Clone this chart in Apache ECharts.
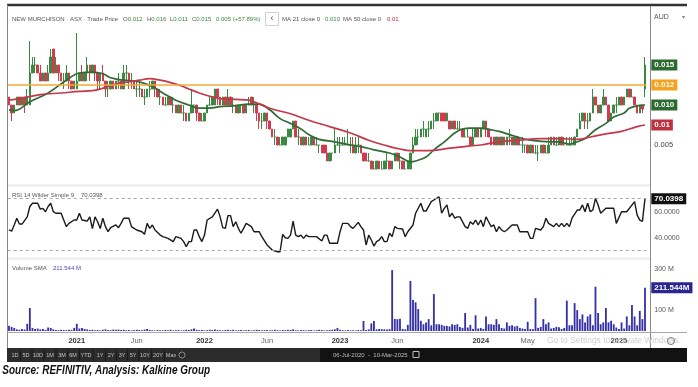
<!DOCTYPE html>
<html><head><meta charset="utf-8">
<script src="https://cdn.jsdelivr.net/npm/echarts/dist/echarts.min.js"></script>
<style>html,body{margin:0;padding:0;background:#fff;}#c{width:698px;height:387px;}</style>
</head><body><div id="c"></div>
<script>
// ---------- DATA (weekly bars, 06-Jul-2020 .. 10-Mar-2025) ----------
const firstWeek = '2020-07-06';
const opens = [
.011,.010,.009,.010,.011,.010,.011,.010,.010,.014,
.015,.015,.014,.013,.014,.013,.014,.017,.014,.015,
.014,.013,.013,.014,.013,.012,.012,.013,.014,.013,
.014,.015,.014,.015,.014,.013,.014,.013,.012,.012,
.013,.012,.013,.013,.012,.014,.014,.013,.013,.012,
.012,.012,.011,.011,.012,.012,.013,.012,.011,.011,
.010,.010,.011,.010,.010,.009,.010,.009,.009,.008,
.009,.010,.010,.009,.008,.008,.009,.010,.010,.010,
.012,.011,.010,.011,.010,.011,.010,.010,.009,.010,
.010,.009,.010,.011,.010,.010,.009,.008,.008,.009,
.008,.007,.006,.006,.005,.005,.005,.006,.006,.007,
.008,.006,.006,.005,.006,.005,.005,.006,.005,.005,
.005,.005,.004,.003,.004,.004,.005,.005,.005,.005,
.005,.005,.005,.004,.005,.005,.004,.004,.003,.003,
.002,.002,.003,.002,.002,.003,.003,.002,.003,.004,
.003,.003,.002,.002,.002,.004,.005,.006,.006,.007,
.006,.007,.007,.008,.008,.009,.009,.009,.008,.008,
.007,.008,.007,.007,.007,.006,.006,.006,.005,.006,
.007,.006,.007,.008,.007,.006,.006,.005,.006,.005,
.006,.005,.006,.006,.005,.006,.005,.005,.005,.005,
.004,.005,.004,.004,.004,.005,.004,.004,.005,.006,
.005,.005,.006,.005,.005,.005,.005,.005,.006,.007,
.008,.009,.008,.008,.009,.011,.010,.009,.010,.011,
.010,.008,.009,.010,.010,.011,.010,.011,.012,.011,
.011,.010,.009,.010,.012];
const closes = [
.010,.009,.010,.011,.010,.011,.010,.011,.014,.015,
.015,.014,.013,.014,.013,.014,.016,.014,.015,.014,
.013,.013,.014,.013,.012,.013,.013,.014,.013,.014,
.015,.014,.015,.014,.013,.014,.013,.012,.012,.013,
.012,.013,.013,.012,.014,.014,.013,.013,.012,.012,
.012,.011,.011,.012,.012,.013,.012,.011,.011,.010,
.010,.011,.010,.010,.009,.010,.009,.009,.008,.009,
.010,.010,.009,.008,.008,.009,.010,.010,.011,.012,
.011,.010,.011,.010,.011,.010,.010,.009,.010,.010,
.009,.010,.010,.010,.010,.009,.008,.008,.009,.008,
.007,.006,.006,.005,.005,.006,.006,.007,.007,.008,
.006,.006,.005,.006,.005,.005,.006,.005,.005,.005,
.004,.004,.003,.004,.004,.005,.005,.005,.005,.005,
.005,.005,.004,.005,.005,.004,.003,.003,.003,.002,
.002,.003,.002,.002,.003,.003,.002,.003,.004,.003,
.003,.002,.002,.003,.004,.005,.006,.006,.007,.007,
.007,.007,.008,.008,.009,.009,.008,.008,.009,.007,
.008,.007,.007,.007,.006,.006,.006,.005,.006,.007,
.006,.007,.008,.007,.006,.005,.005,.006,.005,.006,
.005,.006,.006,.005,.006,.005,.005,.005,.005,.004,
.005,.004,.004,.004,.005,.004,.004,.005,.006,.005,
.005,.006,.005,.005,.005,.005,.005,.006,.007,.008,
.009,.008,.008,.009,.011,.010,.009,.010,.011,.010,
.008,.009,.010,.010,.011,.010,.011,.012,.011,.011,
.010,.009,.010,.0095,.015];
const lows = [
.010,.008,.009,.010,.010,.010,.009,.010,.010,.014,
.014,.014,.013,.013,.013,.013,.014,.014,.014,.013,
.013,.012,.013,.012,.012,.012,.012,.013,.013,.013,
.013,.013,.014,.013,.012,.012,.013,.011,.011,.012,
.012,.012,.012,.012,.012,.013,.012,.012,.012,.011,
.011,.011,.010,.011,.011,.012,.011,.011,.010,.010,
.010,.010,.010,.009,.009,.009,.009,.008,.008,.008,
.009,.009,.008,.008,.008,.008,.009,.010,.010,.010,
.010,.010,.010,.010,.010,.010,.009,.009,.009,.009,
.009,.009,.010,.010,.009,.008,.007,.007,.008,.007,
.007,.006,.005,.005,.005,.005,.005,.006,.006,.007,
.006,.005,.005,.005,.005,.005,.005,.005,.005,.004,
.004,.004,.003,.003,.003,.004,.005,.004,.005,.005,
.005,.004,.004,.004,.004,.004,.003,.003,.003,.002,
.002,.002,.002,.002,.002,.002,.002,.002,.003,.003,
.002,.002,.002,.002,.002,.004,.005,.005,.006,.006,
.006,.006,.007,.007,.008,.008,.008,.008,.008,.007,
.007,.007,.007,.007,.006,.006,.006,.005,.005,.006,
.006,.006,.007,.006,.006,.005,.005,.005,.005,.005,
.005,.005,.005,.005,.005,.005,.005,.004,.004,.004,
.004,.004,.004,.003,.004,.004,.004,.004,.005,.005,
.005,.005,.005,.005,.005,.005,.005,.005,.006,.007,
.008,.007,.007,.008,.009,.010,.009,.009,.010,.010,
.008,.008,.009,.009,.010,.010,.010,.011,.011,.011,
.010,.009,.009,.009,.011];
const highs = [
.011,.010,.010,.011,.011,.011,.011,.012,.018,.016,
.016,.015,.015,.014,.014,.015,.017,.017,.016,.015,
.014,.014,.015,.014,.013,.013,.019,.014,.015,.014,
.016,.015,.015,.015,.014,.014,.015,.013,.013,.013,
.013,.013,.014,.013,.015,.015,.014,.014,.013,.013,
.013,.012,.012,.012,.013,.013,.013,.012,.012,.011,
.011,.011,.011,.011,.010,.010,.010,.010,.009,.009,
.012,.010,.010,.009,.009,.009,.010,.011,.011,.012,
.012,.011,.011,.011,.012,.011,.011,.010,.010,.010,
.010,.010,.011,.011,.011,.010,.009,.009,.009,.009,
.008,.007,.007,.006,.006,.006,.006,.007,.007,.008,
.008,.007,.006,.006,.006,.006,.006,.006,.006,.005,
.005,.005,.005,.004,.004,.007,.006,.006,.006,.006,
.007,.006,.006,.006,.006,.005,.004,.004,.004,.003,
.003,.003,.003,.003,.003,.004,.003,.003,.004,.004,
.004,.003,.003,.003,.004,.006,.007,.007,.007,.008,
.007,.008,.008,.009,.009,.009,.009,.009,.009,.008,
.008,.008,.008,.008,.007,.007,.007,.006,.007,.007,
.007,.007,.008,.008,.007,.006,.006,.006,.006,.006,
.006,.006,.007,.006,.006,.006,.006,.006,.005,.005,
.005,.005,.005,.005,.005,.005,.005,.006,.006,.006,
.006,.006,.006,.006,.006,.006,.006,.006,.007,.009,
.009,.009,.009,.009,.012,.011,.010,.010,.012,.011,
.010,.009,.010,.011,.011,.011,.011,.012,.012,.012,
.011,.010,.010,.010,.016];
// volume, millions of shares
const volumes = [
26,20,15,8,6,10,7,35,112,15,
10,12,8,10,6,17,15,8,5,4,
6,5,4,6,5,15,35,12,15,10,
8,5,6,4,5,3,6,8,5,4,
7,6,7,5,6,4,5,3,4,6,
5,4,7,10,5,4,3,5,4,3,
5,4,6,3,4,5,3,4,6,5,
8,12,6,4,5,3,4,6,5,7,
5,4,3,5,6,4,6,3,4,5,
3,4,5,3,4,6,5,3,4,5,
3,4,6,4,3,5,4,6,5,8,
4,3,5,4,3,4,5,3,4,6,
5,3,4,5,6,8,15,6,4,3,
5,3,4,3,5,4,49,5,8,37,
49,8,10,9,8,7,9,297,59,58,
60,10,8,30,244,151,140,107,50,33,
42,58,28,180,33,33,30,25,25,22,
33,30,33,20,15,88,17,30,10,77,
12,15,10,71,33,33,30,58,33,15,
12,42,25,28,22,25,15,12,10,45,
10,8,160,15,20,58,33,42,12,15,
20,18,10,15,148,28,28,136,102,58,
81,42,71,81,28,216,88,33,42,112,
42,50,33,17,10,42,12,71,28,127,
71,28,98,58,211.544];
// moving averages: [week index, value]
const ma21 = [[0,.0094],[2,.0093],[8,.0104],[15,.0115],[22,.0131],[27,.0140],[32,.0141],[36,.0139],[39,.0134],[44,.0131],[48,.0130],[51,.0128],[55,.0123],[59,.0115],[64,.0106],[69,.0100],[73,.0096],[77,.0096],[81,.0098],[86,.0099],[92,.0101],[96,.0101],[100,.0094],[104,.0083],[108,.0077],[112,.0070],[115,.0063],[119,.0057],[125,.0054],[131,.0050],[135,.0048],[140,.0044],[146,.0040],[150,.0035],[154,.0029],[156,.0030],[160,.0035],[163,.0044],[167,.0054],[171,.0065],[174,.0070],[177,.0071],[181,.0071],[185,.0069],[188,.0067],[192,.0063],[196,.0059],[200,.0056],[208,.0054],[211,.0054],[215,.0051],[218,.0054],[221,.0058],[225,.0069],[229,.0077],[232,.0085],[236,.0090],[238,.0096],[241,.0099],[244,.0100]];
const ma50 = [[0,.0106],[4,.0108],[12,.0113],[20,.0115],[27,.0117],[32,.0118],[35,.0120],[39,.0124],[43,.0128],[46,.0129],[50,.0131],[54,.0133],[58,.0131],[62,.0128],[66,.0124],[69,.0120],[73,.0115],[77,.0111],[81,.0108],[87,.0107],[92,.0106],[94,.0104],[100,.0096],[108,.0089],[115,.0081],[123,.0073],[131,.0065],[138,.0056],[146,.0048],[150,.0045],[154,.0043],[161,.0043],[169,.0046],[177,.0049],[181,.0050],[188,.0054],[196,.0056],[204,.0058],[211,.0058],[218,.0057],[223,.0060],[229,.0064],[235,.0067],[241,.0073],[244,.0075]];
const rsi = [[0,46],[1,45],[2,49.8],[3,55],[4,50.5],[5,50.5],[7,56],[8,64],[9,66.5],[11,66.5],[12,62],[13,62.6],[14,60],[15,64],[16,66.5],[17,60],[18,58.8],[20,58.8],[21,53.6],[22,48.5],[23,51],[25,53.6],[26,53.6],[27,58.8],[28,53.6],[30,52.8],[31,56],[32,47],[33,56],[34,52.3],[35,47],[36,55],[37,48.5],[38,44.6],[39,47.7],[41,49.8],[42,47.7],[43,51],[44,55],[46,55],[47,48.5],[48,47.2],[49,45.9],[51,44.6],[52,42.6],[53,51],[54,47.2],[55,49.8],[56,45.9],[58,42],[59,40.8],[61,39.5],[63,37],[64,40.8],[66,39.5],[67,37],[68,33],[69,37],[70,37],[71,45.9],[72,45.9],[73,40.8],[74,37],[75,42],[76,53.6],[78,56],[80,62],[81,56],[82,47.7],[83,47.2],[84,57],[85,57],[86,48.5],[87,52.3],[88,47.2],[89,43.4],[90,47.2],[91,51],[93,48.5],[94,44.6],[96,44.6],[97,40.8],[99,34.4],[101,30.5],[103,29.2],[104,29.2],[105,42.6],[106,40],[107,39.5],[108,42],[109,52.8],[110,42],[111,40.8],[112,42],[113,39.5],[114,42],[115,40.8],[118,40.8],[120,37.5],[121,42],[122,42],[123,35.7],[126,35.7],[127,44.6],[128,51],[130,51],[131,48.5],[132,47.2],[134,51.8],[135,48.5],[136,45.9],[137,34.4],[138,42],[139,38.2],[140,33.6],[141,37],[142,38.2],[143,40.8],[144,37],[145,37],[146,43.4],[147,40.8],[148,48.5],[149,47.2],[151,46.7],[152,40.8],[153,44.6],[155,49.8],[156,58.8],[158,66.5],[159,60.5],[160,60.5],[162,67.7],[163,69],[165,71.5],[166,58.8],[167,62.6],[168,65.2],[169,56],[170,58.8],[171,55],[172,56],[173,56],[175,48.5],[176,47.2],[177,52.3],[178,50.3],[179,53.6],[180,49.8],[181,53.6],[182,48.5],[183,56],[184,52.3],[185,48.5],[186,49.8],[187,44.6],[188,48.5],[189,45.9],[190,44.6],[191,45.9],[193,49.8],[195,49.8],[196,44.6],[199,44.6],[200,39.5],[201,39.5],[202,47.2],[204,45.9],[205,48.5],[206,55],[207,51],[209,48.5],[210,51],[211,48.5],[212,51],[213,48.5],[214,51],[215,48.5],[216,55],[218,61.3],[219,61.3],[220,65.2],[221,60],[222,66.5],[223,60],[224,61.3],[225,70.3],[226,65.2],[227,58.8],[229,62.6],[232,62.6],[233,51],[235,60],[237,60],[240,67.7],[241,57.4],[242,53.5],[243,52.5],[244,70.0398]];
const xTicks = [[26,'2021',1],[49,'Jun',0],[75,'2022',1],[99,'Jun',0],[127,'2023',1],[149,'Jun',0],[181,'2024',1],[199,'May',0],[234,'2025',1]];
const levelLine = 0.0125, levelText = '0.012';
const priceTags = [[0.015,'0.015','#2d6a2f'],[0.0100,'0.010','#2d6a2f'],[0.0075,'0.01','#c0303f']];
const rsiLast = 70.0398, volSma = 211.544;
const rangeButtons = ['1D','5D','10D','1M','3M','6M','YTD','1Y','2Y','3Y','5Y','10Y','20Y','Max'];
const rangeBtnX = [15,26,38,50,62,73,86,100,111,122,133,145,158,171];

// ---------- build ----------
const weeks = [];
{ const d0 = new Date(firstWeek + 'T00:00:00Z').getTime();
  for (let i = 0; i < opens.length; i++) weeks.push(new Date(d0 + i*7*864e5).toISOString().slice(0,10)); }
const tickMap = new Map(xTicks.map(t => [t[0], t]));
const FF = "'Liberation Sans', Arial, sans-serif";
const GL = 7.7, GW = 638.6;
const hideAx = {axisLine:{show:false}, axisTick:{show:false}, splitLine:{show:false}};
const tagLabel = (txt, bg) => ({show:true, position:'end', distance:5, formatter:txt, color:'#fff', backgroundColor:bg,
  padding:[2,3,1,3], fontSize:8, fontWeight:'bold', fontFamily:FF});
const noLine = {color:'rgba(0,0,0,0)', width:1};

const chart = echarts.init(document.getElementById('c'), null, {renderer:'canvas'});
const gText = (x, y, text, opt) => Object.assign({type:'text', x, y, z:20, style:Object.assign({text, fontSize:6, fontFamily:FF, fill:'#555', align:'left', verticalAlign:'middle'}, opt||{})});
const gLine = (x1,y1,x2,y2,stroke,w,z) => ({type:'line', z:z==null?0:z, shape:{x1,y1,x2,y2}, style:{stroke, lineWidth:w}});
const rich = {g:{fill:'#555', fontSize:6, fontFamily:FF}, v:{fill:'#3b8a3e', fontSize:6, fontFamily:FF}, r:{fill:'#c0303f', fontSize:6, fontFamily:FF}};

const graphics = [
  gLine(7,5,687,5,'#333',2.5,5),
  gLine(7.5,5,7.5,348,'#888',1,5),
  gLine(650.5,6,650.5,348,'#8a8a8a',1,5),
  gLine(8,185.5,650,185.5,'#ececec',2,0),
  gLine(8,258.5,650,258.5,'#ececec',2,0),
  gLine(7,332.5,687,332.5,'#a8a8a8',1,5),
  gText(12,19,'NEW MURCHISON · ASX · Trade Price'),
  gText(123,19,'{g|O}{v|0.012}',{rich}),
  gText(147,19,'{g|H}{v|0.016}',{rich}),
  gText(170,19,'{g|L}{v|0.011}',{rich}),
  gText(192,19,'{g|C}{v|0.015}',{rich}),
  gText(216,19,'{v|0.005 (+57.89%)}',{rich}),
  {type:'rect', z:20, shape:{x:265.5,y:12.5,width:13,height:13}, style:{fill:'#fff', stroke:'#d0d0d0', lineWidth:1}},
  gText(272,19,'‹',{align:'center', fontSize:9, fill:'#444'}),
  gText(282,19,'MA 21 close 0'),
  gText(325,19,'{v|0.010}',{rich}),
  gText(343,19,'MA 50 close 0'),
  gText(387,19,'{r|0.01}',{rich}),
  gText(654,17,'AUD',{fontSize:7, fill:'#555'}),
  gText(683,17,'▾',{fontSize:6, fill:'#888', align:'center'}),
  gText(12,195,'RSI 14 Wilder Simple 9'),
  gText(81,195,String(rsiLast)),
  gText(12,268,'Volume SMA'),
  gText(53,268,volSma.toFixed(3)+' M',{fill:'#4a46b0'}),
  gText(547,341,'Go to Settings to activate Windows.',{fontSize:8.5, fill:'#cfcfcf', z:1}),
  {type:'circle', z:20, shape:{cx:671,cy:341,r:3.5}, style:{fill:'none', stroke:'#777', lineWidth:1}},
  {type:'rect', z:5, shape:{x:7,y:348,width:313,height:14}, style:{fill:'#2c2c2c'}},
  {type:'rect', z:5, shape:{x:320,y:348,width:367,height:14}, style:{fill:'#121212'}},
  gText(333,355,'06-Jul-2020  -  10-Mar-2025',{fontSize:6, fill:'#bdbdbd'}),
  {type:'rect', z:21, shape:{x:413,y:351.5,width:6,height:6}, style:{fill:'none', stroke:'#bdbdbd', lineWidth:1}},
  {type:'circle', z:21, shape:{cx:182,cy:355,r:3}, style:{fill:'none', stroke:'#888', lineWidth:1}},
  Object.assign(gText(2,371,'Source: REFINITIV, Analysis: Kalkine Group',{fontSize:12, fontWeight:'bold', fontStyle:'italic', fill:'#111', fontFamily:FF}), {scaleX:0.83, originX:2, originY:371})
];
rangeButtons.forEach((b,i) => {
  graphics.push(gText(rangeBtnX[i],355,b,{fontSize:5.5, fill:'#c4c4c4', align:'center'}));
  const sx = (rangeBtnX[i-1]+rangeBtnX[i])/2;
  if (i>0) graphics.push(gLine(sx,349,sx,361,'#1a1a1a',1,6));
});

const option = {
  animation:false,
  backgroundColor:'#fff',
  textStyle:{fontFamily:FF},
  grid:[
    {left:GL, width:GW, top:9, height:176},
    {left:GL, width:GW, top:185.7, height:78},
    {left:GL, width:GW, top:261.3, height:69.7}
  ],
  xAxis:[0,1,2].map(i => Object.assign({type:'category', gridIndex:i, data:weeks, boundaryGap:true,
    axisLabel: i<2 ? {show:false} : {
      show:true, margin:6, fontSize:7.5, fontFamily:FF, color:'#666',
      interval:(idx)=>tickMap.has(idx),
      formatter:(v,idx)=>{const t=tickMap.get(idx); return t ? (t[2] ? '{y|'+t[1]+'}' : '{m|'+t[1]+'}') : '';},
      rich:{y:{fontWeight:'bold', color:'#333', fontSize:7.5, fontFamily:FF}, m:{color:'#666', fontSize:7.5, fontFamily:FF}}
    }}, hideAx)),
  yAxis:[
    Object.assign({type:'value', gridIndex:0, position:'right', min:0, max:0.022, interval:0.005,
      axisLabel:{margin:8, fontSize:7.5, color:'#444', fontFamily:FF, formatter:v=>Math.abs(v-0.005)<1e-9?'0.005':''}}, hideAx),
    Object.assign({type:'value', gridIndex:1, position:'right', min:20, max:80, interval:20,
      axisLabel:{margin:8, fontSize:7, color:'#555', fontFamily:FF, formatter:v=>(v===40||v===60)?v.toFixed(4):''}}, hideAx),
    Object.assign({type:'value', gridIndex:2, position:'right', min:0, max:340, interval:100,
      axisLabel:{margin:8, fontSize:7, color:'#555', fontFamily:FF, formatter:v=>(v===100||v===300)?v+' M':''}}, hideAx)
  ],
  series:[
    {type:'candlestick', name:'price', xAxisIndex:0, yAxisIndex:0, barWidth:'75%',
      data:opens.map((o,i)=>[o, closes[i], lows[i], highs[i]]),
      itemStyle:{color:'#3a8a44', color0:'#d23a50', borderColor:'#3a8a44', borderColor0:'#d23a50', borderWidth:1}},
    {type:'line', name:'MA21', xAxisIndex:0, yAxisIndex:0, data:ma21, smooth:0.4, showSymbol:false, z:3,
      lineStyle:{color:'#2f6b34', width:1.7},
      markLine:{symbol:['none','none'], silent:true, animation:false, precision:6,
        data:[
          {yAxis:levelLine, lineStyle:{color:'#f3a935', width:1.6, type:'solid'}, label:tagLabel(levelText,'#f5a21f')},
          ...priceTags.map(t=>({yAxis:t[0], lineStyle:noLine, label:tagLabel(t[1], t[2])}))
        ]}},
    {type:'line', name:'MA50', xAxisIndex:0, yAxisIndex:0, data:ma50, smooth:0.4, showSymbol:false, z:3,
      lineStyle:{color:'#c4384c', width:1.7}},
    {type:'line', name:'RSI', xAxisIndex:1, yAxisIndex:1, data:rsi, showSymbol:false,
      lineStyle:{color:'#1a1a1a', width:1.4},
      markLine:{symbol:['none','none'], silent:true, animation:false, precision:6,
        data:[
          {yAxis:70, lineStyle:{color:'#aaa', width:1, type:[3,3]}, label:{show:false}},
          {yAxis:30, lineStyle:{color:'#aaa', width:1, type:[3,3]}, label:{show:false}},
          {yAxis:rsiLast, lineStyle:noLine, label:tagLabel(String(rsiLast), '#111')}
        ]}},
    {type:'bar', name:'Volume', xAxisIndex:2, yAxisIndex:2, data:volumes, barWidth:'70%',
      itemStyle:{color:'#3530a6'},
      markLine:{symbol:['none','none'], silent:true, animation:false, precision:6,
        data:[{yAxis:volSma, lineStyle:noLine, label:tagLabel(volSma.toFixed(3)+'M', '#2a2690')}]}}
  ],
  graphic:graphics
};
chart.setOption(option);
</script></body></html>
